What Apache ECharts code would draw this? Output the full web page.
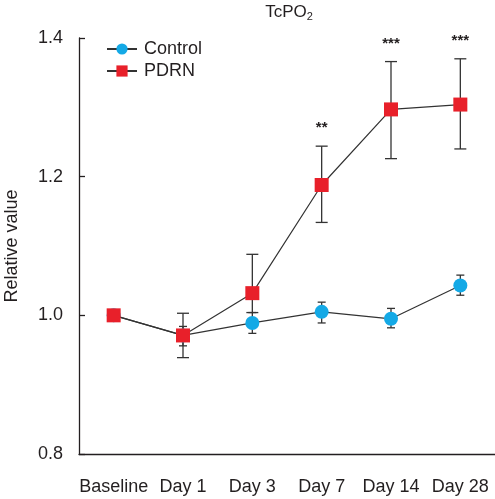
<!DOCTYPE html>
<html>
<head>
<meta charset="utf-8">
<script src="https://cdn.jsdelivr.net/npm/echarts@6/dist/echarts.min.js"></script>
<style>html,body{margin:0;padding:0;background:#fff}#c{width:495px;height:499px}</style>
</head>
<body>
<div id="c"></div>
<script>
var categories = ['Baseline', 'Day 1', 'Day 3', 'Day 7', 'Day 14', 'Day 28'];
var controlValues = [1.0, 0.971, 0.989, 1.005, 0.995, 1.043];
var controlLower = [1.0, 0.956, 0.974, 0.989, 0.982, 1.029];
var controlUpper = [1.0, 0.984, 1.004, 1.019, 1.010, 1.058];
var pdrnValues = [1.0, 0.971, 1.032, 1.188, 1.297, 1.304];
var pdrnLower = [1.0, 0.939, 1.004, 1.134, 1.226, 1.240];
var pdrnUpper = [1.0, 1.003, 1.088, 1.244, 1.366, 1.370];
var stars = ['', '', '', '**', '***', '***'];
var yTicks = [0.8, 1.0, 1.2, 1.4];

var textColor = '#231f20';
var font = 'Liberation Sans';

function errData(lo, hi) {
  return categories.map(function (c, i) { return [i, lo[i], hi[i]]; });
}
function errRender(capHalf, color) {
  return function (params, api) {
    var i = api.value(0);
    var lo = api.coord([i, api.value(1)]);
    var hi = api.coord([i, api.value(2)]);
    if (Math.abs(lo[1] - hi[1]) < 0.5) return null;
    var st = { stroke: color, lineWidth: 1.3 };
    return {
      type: 'group',
      children: [
        { type: 'line', shape: { x1: hi[0], y1: hi[1], x2: lo[0], y2: lo[1] }, style: st },
        { type: 'line', shape: { x1: hi[0] - capHalf, y1: hi[1], x2: hi[0] + capHalf, y2: hi[1] }, style: st },
        { type: 'line', shape: { x1: lo[0] - capHalf, y1: lo[1], x2: lo[0] + capHalf, y2: lo[1] }, style: st }
      ]
    };
  };
}

var chart = echarts.init(document.getElementById('c'), null, { renderer: 'canvas' });
chart.setOption({
  animation: false,
  backgroundColor: '#fff',
  title: {
    text: 'TcPO{sub|2}',
    left: 284,
    top: -3,
    textAlign: 'center',
    textStyle: {
      fontFamily: font, fontSize: 17, fontWeight: 'normal', color: textColor,
      rich: { sub: { fontFamily: font, fontSize: 11, color: textColor, verticalAlign: 'bottom', padding: [9, 0, 0, 0] } }
    }
  },
  legend: {
    left: 106,
    top: 40,
    padding: 0,
    orient: 'vertical',
    itemWidth: 30,
    itemHeight: 14,
    itemGap: 4,
    data: ['Control', 'PDRN'],
    textStyle: { fontFamily: font, fontSize: 18, color: textColor, padding: [0, 0, 0, 2] }
  },
  grid: { left: 79, right: 0, top: 38, bottom: 45, containLabel: false, outerBoundsMode: 'none' },
  xAxis: {
    type: 'category',
    data: categories,
    boundaryGap: true,
    axisLine: { lineStyle: { color: '#231f20', width: 1.3 } },
    axisTick: { alignWithLabel: true, inside: true, length: 6, lineStyle: { color: '#231f20', width: 1.3 } },
    axisLabel: { fontFamily: font, fontSize: 18, color: textColor, margin: 24, interval: 0 }
  },
  yAxis: {
    type: 'value',
    min: 0.8,
    max: 1.4,
    interval: 0.2,
    name: 'Relative value',
    nameLocation: 'middle',
    nameGap: 58,
    nameTextStyle: { fontFamily: font, fontSize: 18, color: textColor },
    splitLine: { show: false },
    axisLine: { show: true, lineStyle: { color: '#231f20', width: 1.3 } },
    axisTick: { show: true, inside: true, length: 6, lineStyle: { color: '#231f20', width: 1.3 } },
    axisLabel: {
      fontFamily: font, fontSize: 18, color: textColor, margin: 16,
      formatter: function (v) { return v.toFixed(1); }
    }
  },
  series: [
    {
      name: 'ControlErr', type: 'custom', renderItem: errRender(4, '#333'),
      data: errData(controlLower, controlUpper), z: 1, silent: true
    },
    {
      name: 'PDRNErr', type: 'custom', renderItem: errRender(6, '#333'),
      data: errData(pdrnLower, pdrnUpper), z: 1, silent: true
    },
    {
      name: 'Control', type: 'line', data: controlValues,
      symbol: 'circle', symbolSize: 14,
      itemStyle: { color: '#14a9e6' },
      lineStyle: { color: '#333', width: 1.2 },
      z: 3
    },
    {
      name: 'PDRN', type: 'line', data: pdrnValues,
      symbol: 'rect', symbolSize: 14,
      itemStyle: { color: '#e8202a' },
      lineStyle: { color: '#333', width: 1.2 },
      z: 4
    },
    {
      name: 'Stars', type: 'custom', silent: true, z: 5,
      data: categories.map(function (c, i) { return [i, pdrnUpper[i]]; }),
      renderItem: function (params, api) {
        var s = stars[params.dataIndex];
        if (!s) return null;
        var p = api.coord([api.value(0), api.value(1)]);
        return {
          type: 'text',
          style: {
            x: p[0], y: p[1] - 18, text: s, align: 'center', verticalAlign: 'middle',
            fill: '#231f20', font: 'bold 15px ' + font
          }
        };
      }
    }
  ]
});
</script>
</body>
</html>
